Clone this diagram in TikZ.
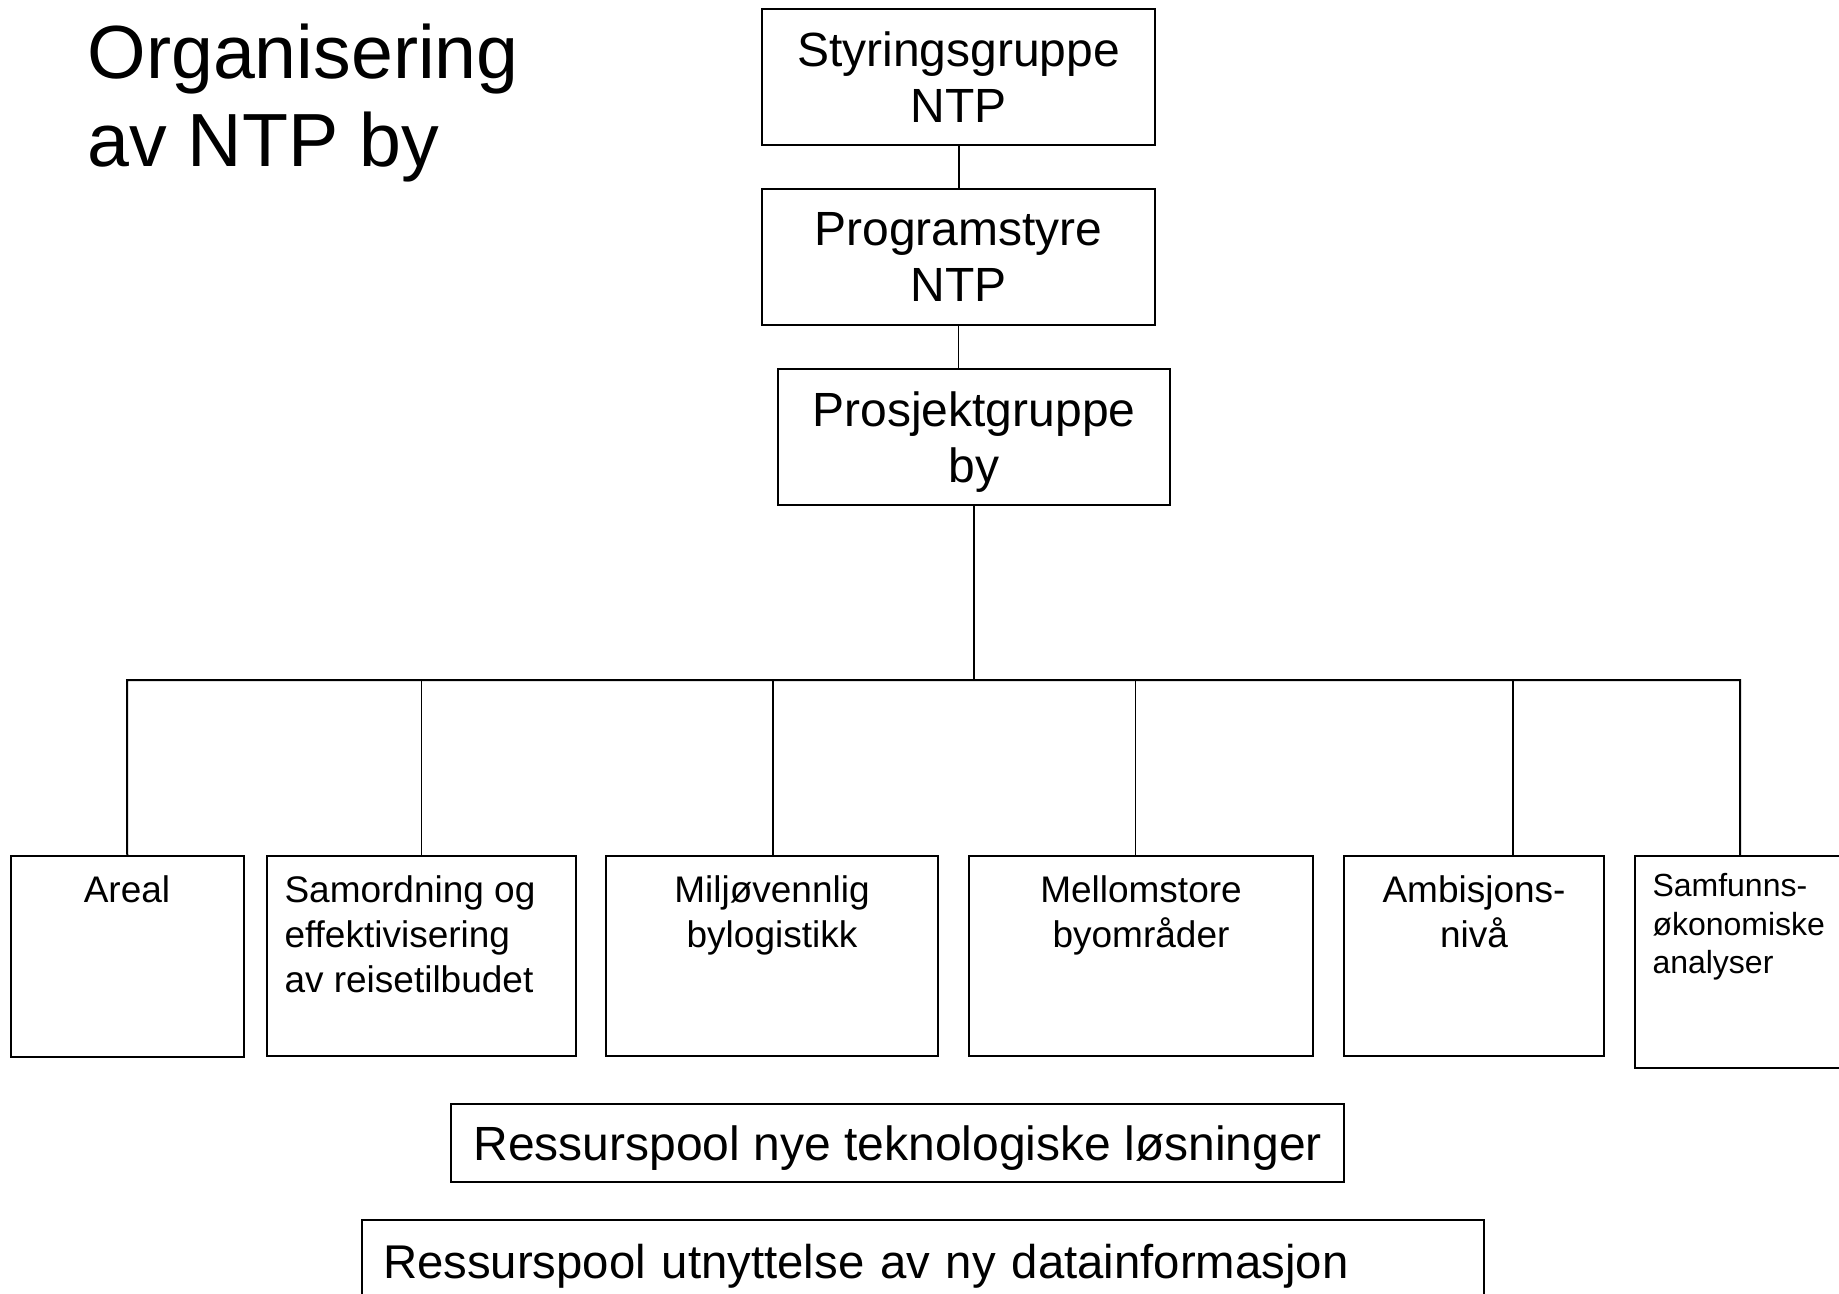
\documentclass[tikz,border=0pt]{standalone}
\usepackage{fontspec}
\setmainfont{Liberation Sans}

\tikzset{every picture/.style={line width=0.75pt}}
\tikzset{
  orgbox/.style={draw, line width=1.5pt, inner sep=0pt, align=center},
  toptxt/.style={font=\fontsize{36}{42.5}\selectfont},
  subtxt/.style={inner sep=0pt, font=\fontsize{27.75}{33.75}\selectfont},
  pooltxt/.style={font=\fontsize{36}{42}\selectfont},
  link/.style={line width=1.5pt},
  thinlink/.style={line width=0.75pt}
}

\begin{document}
\begin{tikzpicture}[x=0.75pt,y=0.75pt,yscale=-1,xscale=1]
%set diagram size 1839 x 1294
\clip (0,0) rectangle (1839,1294);

% Text Node
\node [anchor=north west, inner sep=0pt, align=left, font=\fontsize{56.5}{66}\selectfont] (title) at (87,23) {Organisering\\av NTP by};

%Shape: Rectangle
\node [orgbox, toptxt, minimum width=294.75pt, minimum height=102pt] (styr) at (958.5,77) {Styringsgruppe\\NTP};
%Shape: Rectangle
\node [orgbox, toptxt, minimum width=294.75pt, minimum height=102pt] (prog) at (958.5,257) {Programstyre\\NTP};
%Shape: Rectangle
\node [orgbox, toptxt, minimum width=294pt, minimum height=102pt] (prosj) at (974,437) {Prosjektgruppe\\\smash{by}};

%Shape: Rectangle
\node [orgbox, minimum width=175.1pt, minimum height=150.75pt] (areal) at (127.25,956.5) {};
%Shape: Rectangle
\node [orgbox, minimum width=231.75pt, minimum height=150pt] (samord) at (421.5,956) {};
%Shape: Rectangle
\node [orgbox, minimum width=249pt, minimum height=150pt] (miljo) at (772,956) {};
%Shape: Rectangle
\node [orgbox, minimum width=258pt, minimum height=150pt] (mellom) at (1141,956) {};
%Shape: Rectangle
\node [orgbox, minimum width=195pt, minimum height=150pt] (ambis) at (1474,956) {};
%Shape: Rectangle
\node [orgbox, minimum width=161.25pt, minimum height=159pt] (samf) at (1742.5,962) {};

% Text Node
\node [subtxt, anchor=north, align=center] (areal-t) at (127,875.5) {Areal};
% Text Node
\node [subtxt, anchor=north west, align=left] (samord-t) at (284,875.5) {Samordning og\\effektivisering\\av reisetilbudet};
% Text Node
\node [subtxt, anchor=north, align=center] (miljo-t) at (772,875.5) {Miljøvennlig\\bylogistikk};
% Text Node
\node [subtxt, anchor=north, align=center] (mellom-t) at (1141,875.5) {Mellomstore\\byområder};
% Text Node
\node [subtxt, anchor=north, align=center] (ambis-t) at (1474,875.5) {Ambisjons-\\nivå};
% Text Node
\node [inner sep=0pt, anchor=north west, align=left, font=\fontsize{24}{29}\selectfont] (samf-t) at (1652,873) {Samfunns-\\økonomiske\\analyser};

%Shape: Rectangle
\node [orgbox, pooltxt, text depth=0pt, minimum width=669.4pt, minimum height=58.5pt] (pool1) at (897.75,1143) {Ressurspool nye teknologiske løsninger};
%Shape: Rectangle
\node [orgbox, font=\fontsize{35.5}{42}\selectfont, text width=810pt, inner xsep=15.75pt, align=left, minimum height=69pt] (pool2) at (923,1266) {Ressurspool utnyttelse av ny datainformasjon};

%Straight Lines
\coordinate (hub) at (974,680);
\coordinate (b1) at (127,680);
\coordinate (b2) at (421.5,680);
\coordinate (b3) at (773,680);
\coordinate (b4) at (1135,680);
\coordinate (b5) at (1513,680);
\coordinate (b6) at (1740,680);

\draw [link] (styr) -- (prog);
\draw [thinlink] (prog.south) -- (prog.south |- prosj.north);
\draw [link] (prosj.south) -- (hub);
\draw [link] (areal.north) -- (b1) -- (b6) -- (b6 |- samf.north);
\draw [thinlink] (b2) -- (samord.north);
\draw [link] (b3) -- (b3 |- miljo.north);
\draw [thinlink] (b4) -- (b4 |- mellom.north);
\draw [link] (b5) -- (b5 |- ambis.north);

\end{tikzpicture}
\end{document}
